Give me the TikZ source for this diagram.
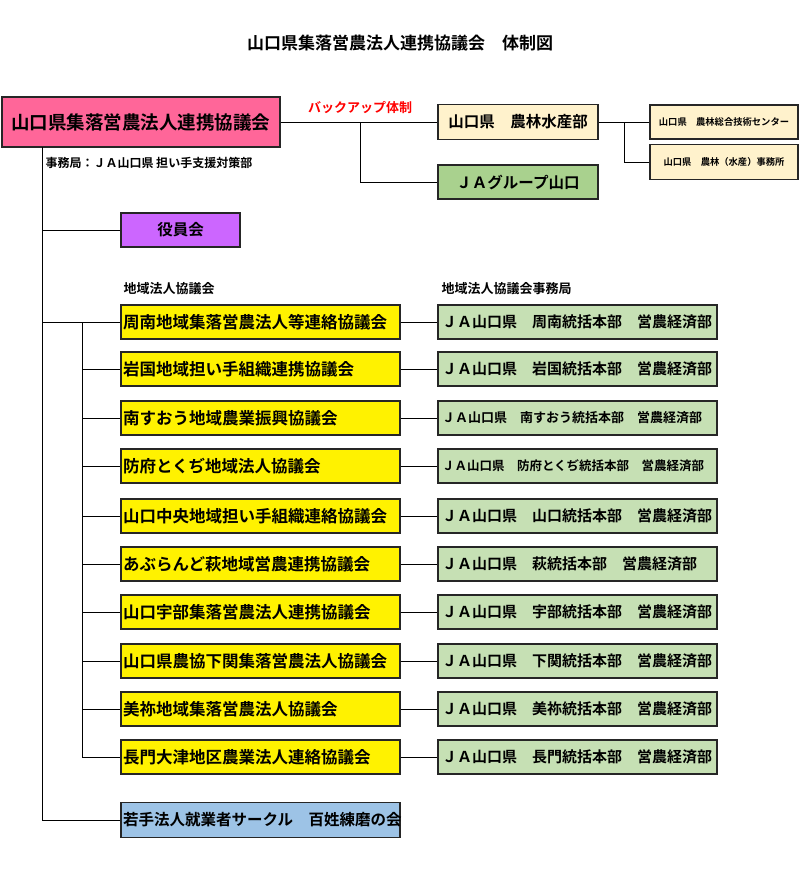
\documentclass[tikz,border=0pt]{standalone}
\usepackage{fontspec}
\setmainfont{Noto Sans CJK JP}[BoldFont={Noto Sans CJK JP Bold}]
\begin{document}
\begin{tikzpicture}[x=1pt,y=-1pt,
 bx/.style={draw=black!85,line width=1.2pt,inner sep=0pt,font=\bfseries},
 ln/.style={line width=1pt}]
\useasboundingbox (0,0) rectangle (800,873);
\definecolor{pink}{HTML}{FF6699}\definecolor{cream}{HTML}{FFF2CC}
\definecolor{gr}{HTML}{A9D18E}\definecolor{lg}{HTML}{C6E0B4}
\definecolor{vio}{HTML}{CC66FF}\definecolor{bl}{HTML}{9DC3E6}
\node[font=\bfseries\fontsize{17}{17}\selectfont] (title) at (400,43) {山口県集落営農法人連携協議会　体制図};
\node[bx,fill=pink,minimum width=278pt,minimum height=50pt,font=\bfseries\fontsize{18.5}{18.5}\selectfont] (main) at (141,122) {山口県集落営農法人連携協議会};
\node[text=red,font=\bfseries\fontsize{13}{13}\selectfont] (bk) at (360,108) {バックアップ体制};
\node[bx,fill=cream,minimum width=160pt,minimum height=35pt,font=\bfseries\fontsize{15.5}{15.5}\selectfont] (nr) at (518,122) {山口県　農林水産部};
\node[bx,fill=gr,minimum width=160pt,minimum height=34pt,font=\bfseries\fontsize{15.5}{15.5}\selectfont] (ja) at (518,182) {ＪＡグループ山口};
\node[bx,fill=cream,minimum width=148pt,minimum height=34pt,font=\bfseries\fontsize{9.3}{9.3}\selectfont] (s1) at (724,122) {山口県　農林総合技術センター};
\node[bx,fill=cream,minimum width=148pt,minimum height=35pt,font=\bfseries\fontsize{9.3}{9.3}\selectfont] (s2) at (724,162) {山口県　農林（水産）事務所};
\node[anchor=west,font=\bfseries\fontsize{12}{12}\selectfont] (jim) at (42,163) {事務局：ＪＡ山口県 担い手支援対策部};
\draw[ln] (main.east) -- (nr.west);
\draw[ln] (360,122) |- (ja.west);
\draw[ln] (nr.east) -- (s1.west);
\draw[ln] (624,122) |- (s2.west);
\node[bx,fill=vio,minimum width=119pt,minimum height=34pt,font=\bfseries\fontsize{15.5}{15.5}\selectfont] (yak) at (180.5,230) {役員会};
\node[anchor=west,font=\bfseries\fontsize{13}{13}\selectfont] (l1) at (120,289) {地域法人協議会};
\node[anchor=west,font=\bfseries\fontsize{13}{13}\selectfont] (l2) at (438,289) {地域法人協議会事務局};
\coordinate (t0) at (42,147);
\coordinate (t1) at (42,820);
\draw[ln] (t0) -- (t1);
\draw[ln] (42,230) -- (yak.west);
\def\rows{{322,369,418,466,516,564,612,661,709,757}}
\foreach \i/\a/\b/\fs in {0/周南地域集落営農法人等連絡協議会/ＪＡ山口県　周南統括本部　営農経済部/15,
 1/岩国地域担い手組織連携協議会/ＪＡ山口県　岩国統括本部　営農経済部/15,
 2/南すおう地域農業振興協議会/ＪＡ山口県　南すおう統括本部　営農経済部/13,
 3/防府とくぢ地域法人協議会/ＪＡ山口県　防府とくぢ統括本部　営農経済部/12.5,
 4/山口中央地域担い手組織連絡協議会/ＪＡ山口県　山口統括本部　営農経済部/15,
 5/あぶらんど萩地域営農連携協議会/ＪＡ山口県　萩統括本部　営農経済部/15,
 6/山口宇部集落営農法人連携協議会/ＪＡ山口県　宇部統括本部　営農経済部/15,
 7/山口県農協下関集落営農法人協議会/ＪＡ山口県　下関統括本部　営農経済部/15,
 8/美祢地域集落営農法人協議会/ＪＡ山口県　美祢統括本部　営農経済部/15,
 9/長門大津地区農業法人連絡協議会/ＪＡ山口県　長門統括本部　営農経済部/15}{
 \pgfmathsetmacro\yy{\rows[\i]}
 \node[bx,fill=yellow,minimum width=279pt,minimum height=34pt,text width=275pt,align=left,font=\bfseries\fontsize{16.5}{16.5}\selectfont] (r\i) at (260.5,\yy) {\a};
 \node[bx,fill=lg,minimum width=279pt,minimum height=34pt,text width=271pt,align=left,font=\bfseries\fontsize{\fs}{\fs}\selectfont] (g\i) at (577.5,\yy) {\b};
 \draw[ln] (r\i.east) -- (g\i.west);
 \draw[ln] (82,\yy) -- (r\i.west);
}
\draw[ln] (42,322) -- (82,322);
\draw[ln] (82,322) -- (82,757);
\node[bx,fill=bl,minimum width=279pt,minimum height=35pt,text width=275pt,align=left,font=\bfseries\fontsize{15.5}{15.5}\selectfont] (wk) at (260.5,820) {若手法人就業者サークル　百姓練磨の会};
\draw[ln] (t1) -- (wk.west);
\end{tikzpicture}
\end{document}
